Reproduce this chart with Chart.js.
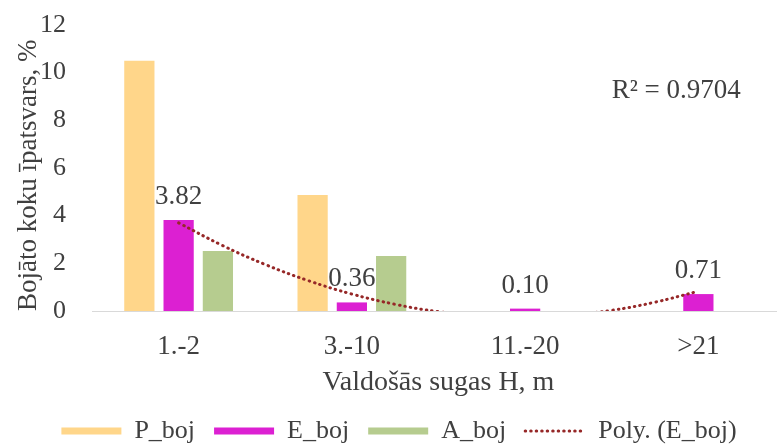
<!DOCTYPE html>
<html>
<head>
<meta charset="utf-8">
<script src="https://cdn.jsdelivr.net/npm/chart.js@4.4.1/dist/chart.umd.min.js"></script>
<style>
  html, body { margin: 0; padding: 0; background: #fff; overflow: hidden; }
  #wrap { width: 785px; height: 445px; }
</style>
</head>
<body>
<div id="wrap"><canvas id="chart"></canvas></div>
<script>
const categories = ["1.-2", "3.-10", "11.-20", ">21"];
const pBoj = [10.5, 4.87, 0, 0];
const eBoj = [3.82, 0.36, 0.10, 0.71];
const aBoj = [2.52, 2.31, 0, 0];
// polynomial trend of E_boj, every quarter category
const trendX = [1, 1.25, 1.5, 1.75, 2, 2.25, 2.5, 2.75, 3, 3.25, 3.5, 3.75, 4];
const trendY = [3.70, 2.76, 1.95, 1.27, 0.71, 0.28, -0.03, -0.20, -0.25, -0.17, 0.03, 0.37, 0.83];
const yTicks = [0, 2, 4, 6, 8, 10, 12];
const rSquared = "R\u00b2 = 0.9704";

const FONT = "'Liberation Serif', 'Times New Roman', serif";
const TEXT = "#404040";

// categories sit at x = 1..4 on one linear axis, so the trend can fall between them
const toPoints = (vals) => vals.map((v, i) => ({ x: i + 1, y: v }));

// value labels over E_boj bars + the R² note
const labelsPlugin = {
  id: "labels",
  afterDatasetsDraw(chart) {
    const ctx = chart.ctx;
    ctx.save();
    ctx.font = "27px " + FONT;
    ctx.fillStyle = TEXT;
    ctx.textAlign = "center";
    ctx.textBaseline = "alphabetic";
    const meta = chart.getDatasetMeta(1);
    meta.data.forEach((bar, i) => {
      ctx.fillText(eBoj[i].toFixed(2), bar.x, bar.y - 16);
    });
    ctx.textAlign = "left";
    ctx.textBaseline = "middle";
    ctx.fillText(rSquared, chart.scales.x.getPixelForValue(3.5), chart.scales.y.getPixelForValue(9.25));
    ctx.restore();
  }
};

const ctx = document.getElementById("chart").getContext("2d");
new Chart(ctx, {
  type: "bar",
  data: {
    datasets: [
      { label: "P_boj", data: toPoints(pBoj), backgroundColor: "#FFD68A", order: 1 },
      { label: "E_boj", data: toPoints(eBoj), backgroundColor: "#DC20D2", order: 1 },
      { label: "A_boj", data: toPoints(aBoj), backgroundColor: "#B6CC8F", order: 1 },
      {
        type: "line",
        label: "Poly. (E_boj)",
        data: trendX.map((x, i) => ({ x: x, y: trendY[i] })),
        borderColor: "#962828",
        backgroundColor: "#962828",
        borderWidth: 3,
        borderDash: [0.5, 5],
        borderCapStyle: "round",
        pointRadius: 0,
        tension: 0.4,
        order: 0
      }
    ]
  },
  options: {
    responsive: true,
    maintainAspectRatio: false,
    animation: false,
    layout: { padding: { left: 13, right: 0, top: 25, bottom: -9 } },
    datasets: {
      bar: { categoryPercentage: 0.68, barPercentage: 0.77 }
    },
    scales: {
      x: {
        type: "linear",
        min: 0.5,
        max: 4.5,
        offset: false,
        grid: { display: false, drawTicks: false, offset: false },
        border: { display: true, color: "#D9D9D9", width: 1 },
        afterBuildTicks(axis) { axis.ticks = categories.map((c, i) => ({ value: i + 1 })); },
        ticks: {
          color: TEXT,
          font: { family: FONT, size: 27 },
          padding: 20,
          maxRotation: 0,
          autoSkip: false,
          callback: (v, i) => categories[i]
        },
        title: { display: true, text: "Valdošās sugas H, m", color: TEXT, font: { family: FONT, size: 28 }, padding: 0 },
        afterFit(axis) { axis.height = 88; }
      },
      y: {
        min: 0,
        max: 12,
        grid: { display: false, drawTicks: false },
        border: { display: false },
        afterBuildTicks(axis) { axis.ticks = yTicks.map(v => ({ value: v })); },
        ticks: { color: TEXT, font: { family: FONT, size: 26 }, padding: 26 },
        title: { display: true, text: "Bojāto koku īpatsvars, %", color: TEXT, font: { family: FONT, size: 27 }, padding: 0, align: "start" },
        afterFit(axis) {
          axis.width = 79;
          // tick padding would otherwise be added above the plot too
          axis.paddingTop = 0;
          axis.paddingBottom = 0;
        }
      }
    },
    plugins: {
      legend: {
        position: "bottom",
        labels: {
          color: TEXT,
          font: { family: FONT, size: 26 },
          usePointStyle: true,
          pointStyleWidth: 60,
          boxHeight: 7,
          padding: 19,
          generateLabels(chart) {
            return chart.data.datasets.map((ds, i) => ({
              text: ds.label,
              datasetIndex: i,
              fillStyle: ds.backgroundColor,
              strokeStyle: ds.borderColor || ds.backgroundColor,
              lineWidth: ds.type === "line" ? 3 : 0,
              lineDash: ds.type === "line" ? [0.5, 5] : [],
              lineCap: "round",
              pointStyle: ds.type === "line" ? "line" : "rect",
              fontColor: TEXT
            }));
          }
        }
      },
      tooltip: { enabled: false }
    }
  },
  plugins: [labelsPlugin]
});
</script>
</body>
</html>
